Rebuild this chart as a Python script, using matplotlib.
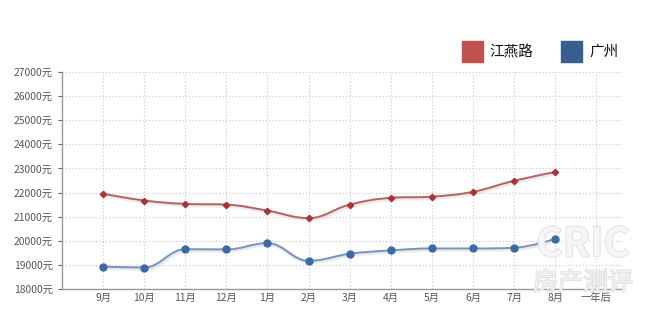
import numpy as np
import matplotlib.pyplot as plt
import matplotlib.patheffects as pe
from matplotlib.path import Path
from matplotlib.patches import PathPatch

plt.rcParams['font.family'] = ['Noto Sans CJK SC', 'DejaVu Sans']

# Monthly average price (元/m2)
months = ['9月', '10月', '11月', '12月', '1月', '2月', '3月', '4月', '5月', '6月', '7月', '8月', '一年后']
jiangyan = [21950, 21670, 21530, 21500, 21250, 20940, 21500, 21780, 21830, 22030, 22490, 22850]
guangzhou = [18930, 18890, 19650, 19640, 19900, 19170, 19460, 19600, 19680, 19680, 19710, 20080]
yticks = [18000, 19000, 20000, 21000, 22000, 23000, 24000, 25000, 26000, 27000]


def spline_path(xs, ys, smoothing=1.5):
    # cubic bezier through the points, same control rule as a highcharts spline
    n = len(xs)
    left = [(xs[i], ys[i]) for i in range(n)]
    right = [(xs[i], ys[i]) for i in range(n)]
    d = smoothing + 1
    for i in range(1, n - 1):
        x, y = xs[i], ys[i]
        lx, ly = xs[i - 1], ys[i - 1]
        nx, ny = xs[i + 1], ys[i + 1]
        lcx, lcy = (smoothing * x + lx) / d, (smoothing * y + ly) / d
        rcx, rcy = (smoothing * x + nx) / d, (smoothing * y + ny) / d
        corr = (rcy - lcy) * (rcx - x) / (rcx - lcx) + y - rcy
        lcy += corr
        rcy += corr
        if lcy > ly and lcy > y:
            lcy = max(ly, y); rcy = 2 * y - lcy
        elif lcy < ly and lcy < y:
            lcy = min(ly, y); rcy = 2 * y - lcy
        if rcy > ny and rcy > y:
            rcy = max(ny, y); lcy = 2 * y - rcy
        elif rcy < ny and rcy < y:
            rcy = min(ny, y); lcy = 2 * y - rcy
        left[i] = (lcx, lcy)
        right[i] = (rcx, rcy)
    verts = [(xs[0], ys[0])]
    codes = [Path.MOVETO]
    for i in range(1, n):
        verts += [right[i - 1], left[i], (xs[i], ys[i])]
        codes += [Path.CURVE4] * 3
    return Path(verts, codes)


fig = plt.figure(figsize=(6.58, 3.29), dpi=100)
ax = fig.add_axes([0.0942, 0.1216, 0.8526, 0.6596])

x = np.arange(1, len(months) + 1)
shadow = [pe.SimpleLineShadow(offset=(0.8, -0.8), shadow_color='#999999', alpha=0.2, linewidth=3), pe.Normal()]

series = [
    (jiangyan, '#b86262', '#a83434', 'D', 3.2),
    (guangzhou, '#7895bb', '#3d69a6', 'o', 5.0),
]
for vals, lc, mc, mk, ms in series:
    xs = x[:len(vals)]
    patch = PathPatch(spline_path(list(xs), list(vals)), facecolor='none', edgecolor=lc,
                      lw=1.4, zorder=3, path_effects=shadow)
    ax.add_patch(patch)
    ax.plot(xs, vals, linestyle='none', marker=mk, ms=ms, color=mc, zorder=4)

ax.set_xlim(0, 13.65)
ax.set_ylim(18000, 27000)
ax.set_xticks(x)
ax.set_xticklabels(months)
ax.set_yticks(yticks)
ax.set_yticklabels([f'{v}元' for v in yticks])
ax.tick_params(axis='both', colors='#666666', labelsize=7.4, length=3, width=0.8)
ax.tick_params(axis='x', length=0, pad=3)
for lab in ax.get_xticklabels() + ax.get_yticklabels():
    lab.set_color('#555555')

ax.grid(True, linestyle=(0, (1, 2)), color='#c8c8c8', linewidth=0.8)
ax.set_axisbelow(True)
for s in ['top', 'right']:
    ax.spines[s].set_visible(False)
for s in ['left', 'bottom']:
    ax.spines[s].set_color('#999999')
    ax.spines[s].set_linewidth(1.0)

# legend as colored squares
fig.patches.append(plt.Rectangle((462 / 658, 1 - 62 / 329), 21 / 658, 21 / 329,
                                 transform=fig.transFigure, color='#c0504d'))
fig.text(489 / 658, 1 - 52 / 329, '江燕路', fontsize=10.5, va='center', ha='left', color='#111111')
fig.patches.append(plt.Rectangle((561 / 658, 1 - 62 / 329), 21 / 658, 21 / 329,
                                 transform=fig.transFigure, color='#385d8f'))
fig.text(589 / 658, 1 - 52 / 329, '广州', fontsize=10.5, va='center', ha='left', color='#111111')

# faint watermark
outline = [pe.withStroke(linewidth=1.2, foreground='#dcdcdc')]
fig.text(583 / 658, 1 - 245 / 329, 'CRIC', fontsize=29, fontweight='bold', color='#f6f6f6',
         alpha=0.85, ha='center', va='center', zorder=10, path_effects=outline)
fig.text(583 / 658, 1 - 283 / 329, '房产测评', fontsize=18, color='#f4f4f4',
         alpha=0.85, ha='center', va='center', zorder=10, path_effects=outline)

fig.savefig('out.png', dpi=100)
